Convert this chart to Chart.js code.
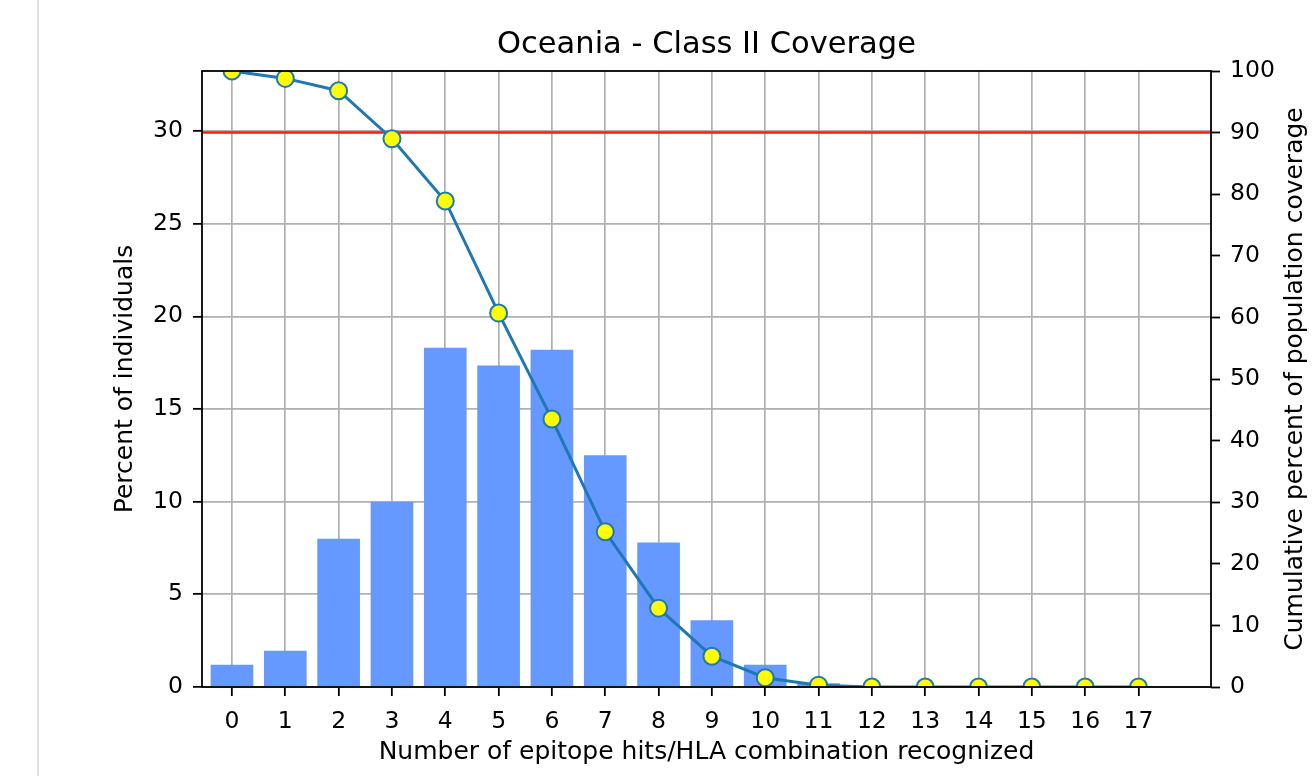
<!DOCTYPE html>
<html>
<head>
<meta charset="utf-8">
<title>Oceania - Class II Coverage</title>
<script src="https://cdn.jsdelivr.net/npm/chart.js@4.4.1/dist/chart.umd.min.js"></script>
<style>
  html, body { margin: 0; padding: 0; background: #ffffff; }
  #wrap { position: relative; width: 1315px; height: 776px; overflow: hidden; }
  #cell-edge { position: absolute; left: 37px; top: 0; width: 2px; height: 776px; background: #e0e0e0; }
  #coverage { position: absolute; left: 0; top: 0; }
</style>
</head>
<body>
<div id="wrap">
  <div id="cell-edge"></div>
  <canvas id="coverage" width="1315" height="776"></canvas>
</div>
<script>
// Number of epitope hits (x categories)
var hits = [0, 1, 2, 3, 4, 5, 6, 7, 8, 9, 10, 11, 12, 13, 14, 15, 16, 17];

// Percent of individuals for each number of hits (bars, left axis)
var individuals = [1.2, 1.95, 8.0, 10.0, 18.3, 17.35, 18.2, 12.5, 7.8, 3.6, 1.2, 0.2, 0, 0, 0, 0, 0, 0];

// Cumulative percent of population coverage (line, right axis)
var cumulative = [100, 98.8, 96.8, 89.0, 78.9, 60.7, 43.5, 25.2, 12.8, 5.0, 1.5, 0.3, 0, 0, 0, 0, 0, 0];

var leftTicks = [0, 5, 10, 15, 20, 25, 30];
var rightTicks = [0, 10, 20, 30, 40, 50, 60, 70, 80, 90, 100];

var coverageThreshold = 90;

var chartTitle = 'Oceania - Class II Coverage';
var xTitle = 'Number of epitope hits/HLA combination recognized';
var leftTitle = 'Percent of individuals';
var rightTitle = 'Cumulative percent of population coverage';


Chart.defaults.font.family = "'DejaVu Sans', sans-serif";
Chart.defaults.color = '#000000';

var tickFont = { size: 23.5 };
var labelFont = { size: 25 };


// Replace the generated ticks with the ones
function fixTicks(values) {
  return function(axis) {
    axis.ticks = values.map(function(v) { return { value: v }; });
  };
}


// Draws the threshold line, the coverage curve on top of the grid,
// the axes frame, the title centred on the plot and the right axis
// title (which reads bottom to top, like the left one)
var overlay = {
  id: 'overlay',
  beforeDatasetDraw: function(chart, args) {
    if (args.index === 1) {
      return false;
    }
  },
  afterDraw: function(chart) {
    var ctx = chart.ctx;
    var area = chart.chartArea;
    var y1 = chart.scales.y1;

    ctx.save();
    ctx.beginPath();
    ctx.rect(area.left, area.top, area.right - area.left, area.bottom - area.top);
    ctx.clip();

    var ty = y1.getPixelForValue(coverageThreshold);
    ctx.strokeStyle = '#ff1a1a';
    ctx.lineWidth = 2.5;
    ctx.beginPath();
    ctx.moveTo(area.left, ty);
    ctx.lineTo(area.right, ty);
    ctx.stroke();

    chart.getDatasetMeta(1).controller.draw();
    ctx.restore();

    ctx.save();
    ctx.strokeStyle = '#000000';
    ctx.lineWidth = 1.8;
    ctx.strokeRect(area.left, area.top, area.right - area.left, area.bottom - area.top);

    ctx.fillStyle = '#000000';
    ctx.textAlign = 'center';
    ctx.textBaseline = 'middle';
    ctx.font = "30.5px 'DejaVu Sans', sans-serif";
    ctx.fillText(chartTitle, (area.left + area.right) / 2, area.top - 26);

    ctx.translate(area.right + 84, (area.top + area.bottom) / 2);
    ctx.rotate(-Math.PI / 2);
    ctx.font = "25px 'DejaVu Sans', sans-serif";
    ctx.fillText(rightTitle, 0, 0);
    ctx.restore();
  }
};


var chart = new Chart(document.getElementById('coverage'), {
  type: 'bar',
  data: {
    datasets: [
      {
        type: 'bar',
        data: hits.map(function(h, i) { return { x: h, y: individuals[i] }; }),
        backgroundColor: '#6699ff',
        borderWidth: 0,
        barPercentage: 0.8,
        categoryPercentage: 1,
        xAxisID: 'x',
        yAxisID: 'y'
      },
      {
        type: 'line',
        data: hits.map(function(h, i) { return { x: h, y: cumulative[i] }; }),
        borderColor: '#1f77b4',
        borderWidth: 3,
        pointRadius: 8.5,
        pointBackgroundColor: '#ffff00',
        pointBorderColor: '#1f77b4',
        pointBorderWidth: 2,
        tension: 0,
        fill: false,
        clip: 0,
        xAxisID: 'x',
        yAxisID: 'y1'
      }
    ]
  },
  options: {
    responsive: false,
    animation: false,
    events: [],  // Static picture
    devicePixelRatio: 1,
    layout: {
      padding: { top: 71, left: 0, right: 0, bottom: 0 }
    },
    scales: {
      x: {
        type: 'linear',
        min: -0.5625,
        max: 18.36,
        offset: false,
        z: 1,
        afterBuildTicks: fixTicks(hits),
        afterFit: function(scale) { scale.height = 89; },
        grid: {
          offset: false,
          color: '#b0b0b0',
          lineWidth: 1.7,
          tickColor: '#000000',
          tickWidth: 1.8,
          tickLength: 9
        },
        border: { display: false },
        ticks: { font: tickFont, padding: 12, maxRotation: 0, autoSkip: false },
        title: { display: true, text: xTitle, font: labelFont, padding: { top: 0, bottom: 9 } }
      },
      y: {
        type: 'linear',
        position: 'left',
        min: 0,
        max: 33.24,
        z: 1,
        afterBuildTicks: fixTicks(leftTicks),
        afterFit: function(scale) { scale.width = 202; },
        grid: {
          color: '#b0b0b0',
          lineWidth: 1.7,
          tickColor: '#000000',
          tickWidth: 1.8,
          tickLength: 9
        },
        border: { display: false },
        ticks: { font: tickFont, padding: 10 },
        title: { display: true, text: leftTitle, font: labelFont, padding: { top: 110, bottom: 0 } }
      },
      y1: {
        type: 'linear',
        position: 'right',
        min: 0,
        max: 100,
        afterBuildTicks: fixTicks(rightTicks),
        afterFit: function(scale) { scale.width = 104; },
        grid: {
          drawOnChartArea: false,
          tickColor: '#000000',
          tickWidth: 1.8,
          tickLength: 9
        },
        border: { display: false },
        ticks: { font: tickFont, padding: 10 }
      }
    },
    plugins: {
      legend: { display: false },
      tooltip: { enabled: false },
      title: { display: false }
    }
  },
  plugins: [overlay]
});
</script>
</body>
</html>
